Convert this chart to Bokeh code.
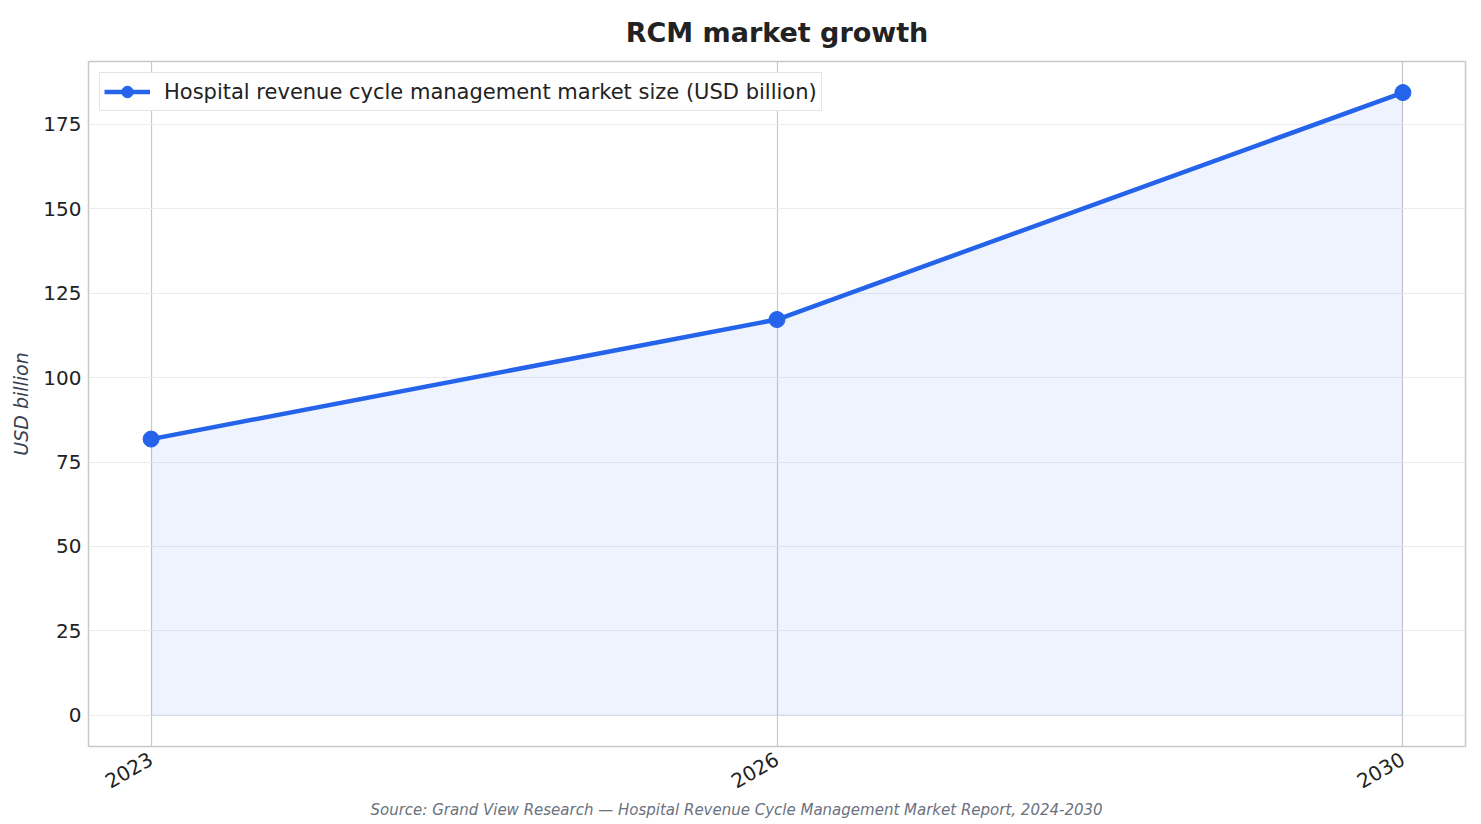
from bokeh.plotting import figure
from bokeh.models import Range1d, FixedTicker, Legend, LegendItem, Title
from bokeh.embed import file_html
from bokeh.resources import INLINE
import math

# Data
years = ["2023", "2026", "2030"]
market_size = [81.8, 117.2, 184.4]  # USD billion
y_ticks = [0, 25, 50, 75, 100, 125, 150, 175]

FONT = "DejaVu Sans"
BLUE = "#2563eb"

x = list(range(len(years)))

p = figure(
    width=1481, height=824,
    x_range=Range1d(-0.1, 2.1),
    y_range=Range1d(-9.22, 193.6),
    output_backend="svg",
    toolbar_location=None,
    min_border_left=88, min_border_right=16,
    min_border_top=61, min_border_bottom=78,
)
p.background_fill_color = "white"
p.border_fill_color = "white"
p.outline_line_color = "#c8c8c8"
p.outline_line_width = 1.5

# Title
p.title.text = "RCM market growth"
p.title.align = "center"
p.title.text_font = FONT
p.title.text_font_size = "27px"
p.title.text_font_style = "bold"
p.title.text_color = "#222222"
p.title.standoff = 27

# Axes
p.xaxis.ticker = FixedTicker(ticks=x)
p.xaxis.major_label_overrides = {i: y for i, y in enumerate(years)}
p.xaxis.major_label_orientation = math.pi / 6
p.yaxis.ticker = FixedTicker(ticks=y_ticks)
for ax in (p.xaxis[0], p.yaxis[0]):
    ax.axis_line_color = None
    ax.major_tick_line_color = None
    ax.major_tick_out = 0
    ax.major_tick_in = 0
    ax.minor_tick_line_color = None
    ax.major_label_text_font = FONT
    ax.major_label_text_font_size = "20px"
    ax.major_label_text_color = "#222222"
    ax.major_label_standoff = 7
p.xaxis.major_label_standoff = 11
p.yaxis.axis_label = "USD billion"
p.yaxis.axis_label_text_font = FONT
p.yaxis.axis_label_text_font_size = "19px"
p.yaxis.axis_label_text_font_style = "italic"
p.yaxis.axis_label_text_color = "#374151"
p.yaxis.axis_label_standoff = 8

# Grid
p.ygrid.grid_line_color = "#ebebeb"
p.ygrid.grid_line_width = 1
p.xgrid.grid_line_color = "#c8c8c8"
p.xgrid.grid_line_width = 1.2

# Area + line
p.varea(x=x, y1=[0] * len(x), y2=market_size, fill_color=BLUE, fill_alpha=0.08)
p.line(x=x, y=[0] * len(x), line_color=BLUE, line_alpha=0.1, line_width=1.5)
ln = p.line(x=x, y=market_size, line_color=BLUE, line_width=4.5)
pts = p.scatter(x=x, y=market_size, size=16, fill_color=BLUE, line_color=BLUE)

legend = Legend(
    items=[LegendItem(label="Hospital revenue cycle management market size (USD billion)",
                      renderers=[ln, pts])],
    location="top_left",
    label_text_font=FONT,
    label_text_font_size="21px",
    label_text_color="#222222",
    border_line_color="#cccccc",
    border_line_width=1.5,
    background_fill_alpha=1,
    margin=11, padding=4, spacing=0,
    glyph_width=46, glyph_height=29, label_standoff=14,
    label_height=29,
)
p.add_layout(legend)

src = Title(
    text="Source: Grand View Research \u2014 Hospital Revenue Cycle Management Market Report, 2024-2030",
    align="left", text_font=FONT, text_font_size="15px",
    text_font_style="italic", text_color="#6b7280", offset=282, standoff=0,
)
p.add_layout(src, "below")

open("out.html", "w").write(file_html(p, INLINE))
